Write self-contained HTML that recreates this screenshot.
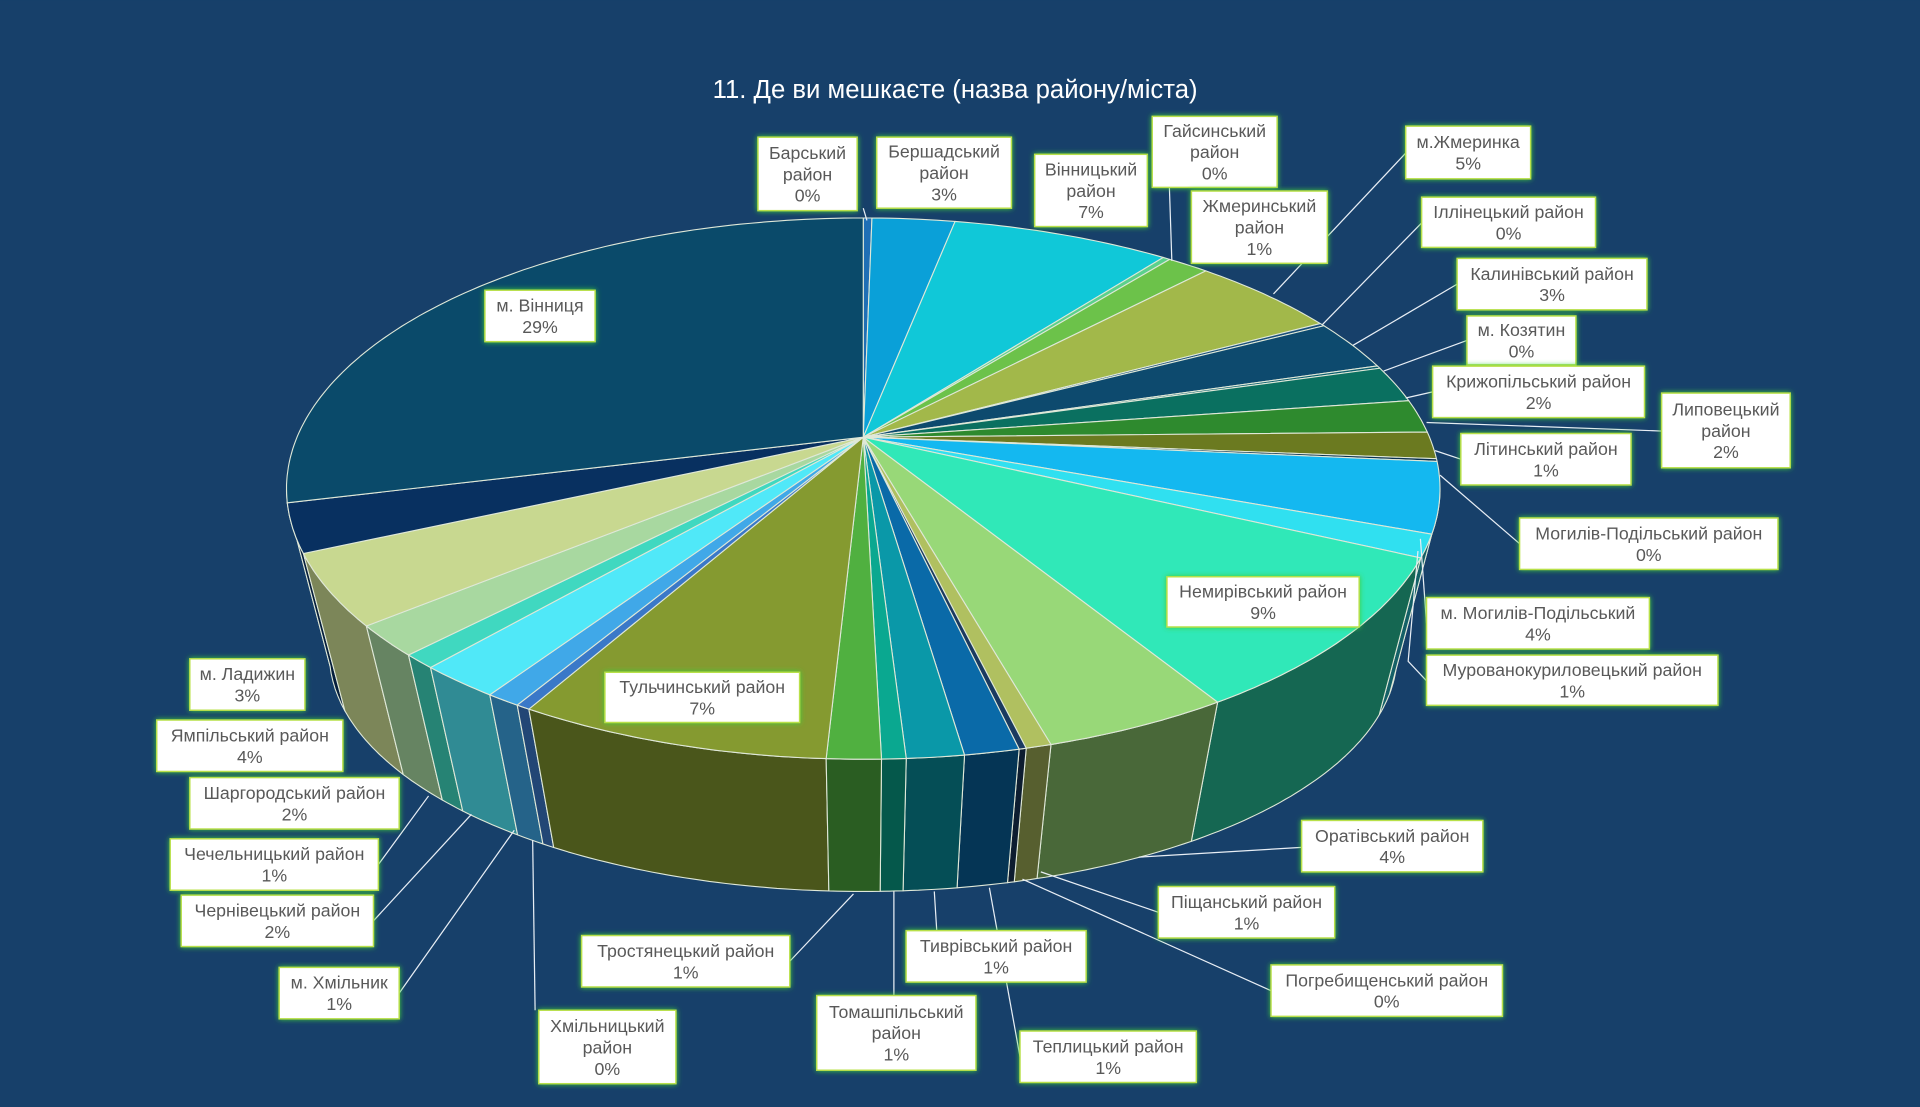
<!DOCTYPE html>
<html><head><meta charset="utf-8">
<style>
html,body{margin:0;padding:0;background:#17406a;}
svg{display:block}
text{font-family:"Liberation Sans",Arial,sans-serif;}
</style></head>
<body>
<svg id="s" width="1920" height="1107" viewBox="0 0 1568 904" xmlns="http://www.w3.org/2000/svg">
<defs>
<filter id="glow" x="-20%" y="-30%" width="140%" height="160%">
<feGaussianBlur in="SourceAlpha" stdDeviation="2.2" result="b"/>
<feFlood flood-color="#3fcf3a" result="c"/>
<feComposite in="c" in2="b" operator="in" result="g"/>
<feMerge><feMergeNode in="g"/><feMergeNode in="SourceGraphic"/></feMerge>
</filter>
</defs>
<rect width="1568" height="904" fill="#17406a"/>
<text x="780" y="80" fill="#ffffff" font-size="21" text-anchor="middle">11. Де ви мешкаєте (назва району/міста)</text>
<g id="pie"></g>
<g id="lines" stroke="#e8eef5" stroke-width="1" fill="none"></g>
<g id="labels"></g>
</svg>
<script>
var NS="http://www.w3.org/2000/svg";
var cx=705,cy=399,rx=471,ry=221,ax=705,ay=357;
var bcx=705,bcy=534,brx=436,bry=194;
var sl=[
[.015,"#1f6fb5"],[.16,"#0aa0d8"],[.547,"#10c8d8"],[.56,"#5bd18c"],[.636,"#6cc24a"],[.915,"#a2b84a"],
[.925,"#1a4f7a"],[1.10,"#0d4a6e"],[1.11,"#0b5e6e"],[1.24,"#0a7060"],[1.36,"#2e8a2e"],[1.46,"#6b7a20"],
[1.47,"#0a3050"],[1.74,"#14b8f0"],[1.83,"#30e0f0"],[2.48,"#30e8b8"],[2.81,"#98d878"],[2.855,"#b0c060"],
[2.868,"#1a3a60"],[2.965,"#0a6aa8"],[3.067,"#0a98a8"],[3.11,"#0aa890"],[3.206,"#50b040"],[3.76,"#859a30"],
[3.785,"#3a78c8"],[3.846,"#40a8e8"],[3.99,"#50e8f8"],[4.05,"#40d8c0"],[4.18,"#a8d8a0"],[4.47,"#c8d890"],
[4.66,"#083060"],[6.2832,"#0a4a6a"]];
function P(t){return [cx+rx*Math.sin(t),cy-ry*Math.cos(t)];}
function B(t){return [bcx+brx*Math.sin(t),bcy-bry*Math.cos(t)];}
function dark(c,f){var n=parseInt(c.slice(1),16);var r=(n>>16)*f|0,g=((n>>8)&255)*f|0,b=(n&255)*f|0;return "rgb("+r+","+g+","+b+")";}
var pie=document.getElementById("pie");
function poly(pts,fill){var p=document.createElementNS(NS,"polygon");p.setAttribute("points",pts.map(function(a){return a[0].toFixed(1)+","+a[1].toFixed(1)}).join(" "));p.setAttribute("fill",fill);p.setAttribute("stroke","#dfe8d8");p.setAttribute("stroke-width","0.9");p.setAttribute("stroke-linejoin","round");pie.appendChild(p);}
var sides=[],a=0;
sl.forEach(function(s){var b=s[0];var lo=Math.max(a,Math.PI/2),hi=Math.min(b,3*Math.PI/2);if(hi>lo)sides.push([lo,hi,s[1]]);s.push(a);a=b;});
sides.sort(function(x,y){return Math.abs((y[0]+y[1])/2-Math.PI)-Math.abs((x[0]+x[1])/2-Math.PI);});
sides.forEach(function(s){var pts=[],bot=[],n=Math.max(2,Math.ceil((s[1]-s[0])*60));for(var i=0;i<=n;i++){var t=s[0]+(s[1]-s[0])*i/n;pts.push(P(t));bot.unshift(B(t));}
var m=(s[0]+s[1])/2;var f=0.53-0.1*Math.sin(m);poly(pts.concat(bot),dark(s[2],f));});
sl.forEach(function(s){var a0=s[2],b=s[0],pts=[[ax,ay]],n=Math.max(2,Math.ceil((b-a0)*60));for(var i=0;i<=n;i++)pts.push(P(a0+(b-a0)*i/n));poly(pts,s[1]);});
var L=[
[619,112,700,172,["Барський","район","0%"]],[716,112,826,170,["Бершадський","район","3%"]],
[845,126,937,185,["Вінницький","район","7%"]],[941,95,1043,153,["Гайсинський","район","0%"]],
[973,156,1084,215,["Жмеринський","район","1%"]],[1148,103,1250,146,["м.Жмеринка","5%"]],
[1161,161,1303,202,["Іллінецький район","0%"]],[1190,211,1345,253,["Калинівський район","3%"]],
[1198,258,1287,298,["м. Козятин","0%"]],[1170,299,1343,341,["Крижопільський район","2%"]],
[1357,321,1462,382,["Липовецький","район","2%"]],[1193,354,1332,396,["Літинський район","1%"]],
[1241,423,1452,465,["Могилів-Подільський район","0%"]],[1165,488,1347,530,["м. Могилів-Подільський","4%"]],
[1165,535,1403,576,["Мурованокуриловецький район","1%"]],[953,471,1110,512,["Немирівський район","9%"]],
[1063,670,1211,712,["Оратівський район","4%"]],[946,724,1090,766,["Піщанський район","1%"]],
[1038,788,1227,830,["Погребищенський район","0%"]],[833,842,977,884,["Теплицький район","1%"]],
[740,760,887,802,["Тиврівський район","1%"]],[667,813,797,874,["Томашпільський","район","1%"]],
[475,764,645,806,["Тростянецький район","1%"]],[494,549,653,590,["Тульчинський район","7%"]],
[440,825,552,885,["Хмільницький","район","0%"]],[228,790,326,832,["м. Хмільник","1%"]],
[148,731,305,773,["Чернівецький район","2%"]],[139,685,309,727,["Чечельницький район","1%"]],
[155,635,326,677,["Шаргородський район","2%"]],[128,588,280,630,["Ямпільський район","4%"]],
[155,538,249,580,["м. Ладижин","3%"]],[396,237,486,279,["м. Вінниця","29%"]]];
var lab=document.getElementById("labels");
L.forEach(function(l){var g=document.createElementNS(NS,"g");var r=document.createElementNS(NS,"rect");
r.setAttribute("x",l[0]);r.setAttribute("y",l[1]);r.setAttribute("width",l[2]-l[0]);r.setAttribute("height",l[3]-l[1]);
r.setAttribute("fill","#ffffff");r.setAttribute("stroke","#b8e04a");r.setAttribute("stroke-width","1.2");r.setAttribute("filter","url(#glow)");g.appendChild(r);
var n=l[4].length,mid=(l[1]+l[3])/2,lh=17.5;
l[4].forEach(function(s,i){var t=document.createElementNS(NS,"text");t.setAttribute("x",(l[0]+l[2])/2);t.setAttribute("y",mid+(i-(n-1)/2)*lh+5.2);t.setAttribute("text-anchor","middle");t.setAttribute("font-size","14.5");t.setAttribute("fill","#595959");t.textContent=s;g.appendChild(t);});
lab.appendChild(g);});
var ln=[[705,170,708,180],[955,153,957,213],[1148,125,1040,240],[1161,182,1080,265],[1190,232,1105,282],[1198,278,1130,303],
[1170,320,1148,325],[1357,352,1165,345],[1193,375,1172,368],[1241,444,1176,388],[1165,509,1160,440],[1165,556,1150,540,1158,450],
[1063,692,930,700],[946,745,850,712],[1038,809,835,718],[833,863,808,725],[765,760,763,728],[730,813,730,728],[645,785,697,730],
[437,825,435,686],[326,811,420,678],[305,752,385,665],[309,706,350,650]];
var lg=document.getElementById("lines");
ln.forEach(function(p){var e=document.createElementNS(NS,"polyline");var s=[];for(var i=0;i<p.length;i+=2)s.push(p[i]+","+p[i+1]);e.setAttribute("points",s.join(" "));lg.appendChild(e);});
</script>
</body></html>
